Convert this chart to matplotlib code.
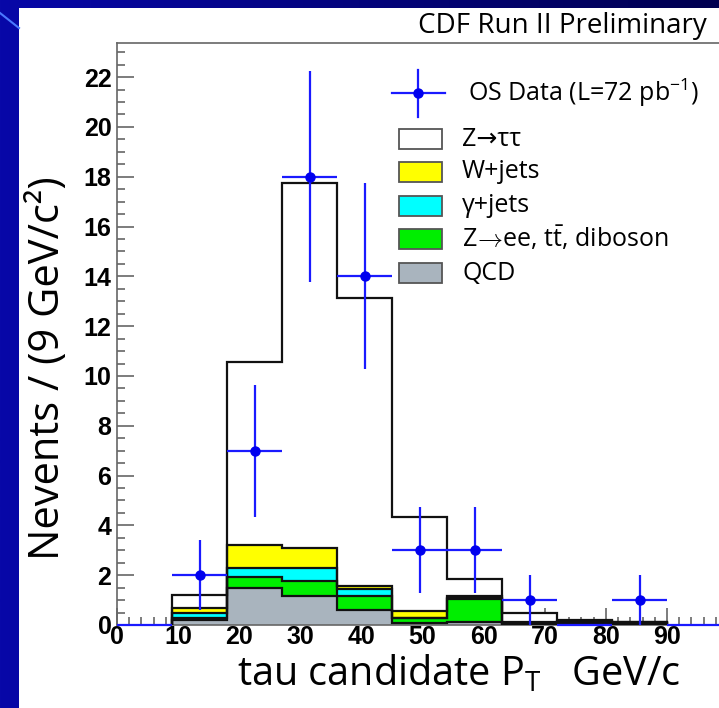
import matplotlib
matplotlib.use("Agg")
import matplotlib.pyplot as plt
import numpy as np
from matplotlib.patches import Rectangle
from matplotlib.lines import Line2D

plt.rcParams["font.family"] = ["Open Sans", "DejaVu Sans"]
plt.rcParams["mathtext.fontset"] = "custom"
plt.rcParams["mathtext.rm"] = "Open Sans"
plt.rcParams["mathtext.it"] = "Open Sans:italic"
plt.rcParams["mathtext.bf"] = "Open Sans:bold"

# 9 GeV bins of tau candidate pT
bin_edges = [9, 18, 27, 36, 45, 54, 63, 72, 81, 90]

# background components, stacked bottom to top
qcd = [0.22, 1.47, 1.16, 0.60, 0.07, 0.13, 0.03, 0.02, 0.02]
zee_tt_diboson = [0.08, 0.45, 0.62, 0.58, 0.20, 0.90, 0.05, 0.08, 0.08]
gamma_jets = [0.19, 0.36, 0.52, 0.25, 0.03, 0.04, 0.02, 0.02, 0.00]
w_jets = [0.21, 0.93, 0.78, 0.14, 0.26, 0.09, 0.03, 0.03, 0.01]
z_tautau = [0.52, 7.35, 14.67, 11.58, 3.79, 0.69, 0.34, 0.05, 0.01]

# opposite-sign data, one entry per bin from 0 to 99
data_centers = [4.5, 13.5, 22.5, 31.5, 40.5, 49.5, 58.5, 67.5, 76.5, 85.5, 94.5]
data_counts = [0, 2, 7, 18, 14, 3, 3, 1, 0, 1, 0]
data_err = [0, 1.41, 2.65, 4.24, 3.74, 1.73, 1.73, 1.0, 0, 1.0, 0]

x_ticks = [0, 10, 20, 30, 40, 50, 60, 70, 80, 90]
y_ticks = [0, 2, 4, 6, 8, 10, 12, 14, 16, 18, 20, 22]

W, H = 719, 708
fig = plt.figure(figsize=(W / 100, H / 100), dpi=100)

# slide background: blue gradient with white panel
bg = fig.add_axes([0, 0, 1, 1])
grad = np.linspace(0, 1, 256)[None, :]
bg.imshow(grad, extent=[0, W, H, 0], aspect="auto",
          cmap=matplotlib.colors.LinearSegmentedColormap.from_list(
              "slide", ["#0808a8", "#04047c", "#000050"]))
bg.add_patch(Rectangle((19, 8), W - 19, H - 8, facecolor="white", edgecolor="none"))
bg.plot([0, 19], [13, 28], color="#4a78ff", lw=1.5)
bg.set_xlim(0, W)
bg.set_ylim(H, 0)
bg.axis("off")

# main frame
ax = fig.add_axes([117 / W, (H - 625) / H, (W - 117) / W, (625 - 43) / H])
ax.set_facecolor("none")
ax.set_xlim(0, 98.5)
ax.set_ylim(0, 23.37)

layers = [qcd, zee_tt_diboson, gamma_jets, w_jets, z_tautau]
colors = ["#a9b4be", "#00ee00", "#00ffff", "#ffff00", "#ffffff"]
tops = np.cumsum(np.array(layers), axis=0)

for top, col in zip(tops[::-1], colors[::-1]):
    ax.stairs(top, bin_edges, baseline=0, fill=True, facecolor=col,
              edgecolor="none", zorder=2)
for top in tops[::-1]:
    ax.stairs(top, bin_edges, baseline=0, fill=False, edgecolor="#111111",
              lw=1.6, zorder=3)

ax.errorbar(data_centers, data_counts, xerr=4.5, yerr=data_err, fmt="none",
            ecolor="#1a1aff", elinewidth=1.6, capsize=0, zorder=5, clip_on=False)
pts = [(c, n) for c, n in zip(data_centers, data_counts) if n > 0]
ax.plot([p[0] for p in pts], [p[1] for p in pts], "o", color="#0000ee",
        ms=6.5, zorder=6)

ax.spines["right"].set_visible(False)
for side in ["top", "left", "bottom"]:
    ax.spines[side].set_color("#666666")
    ax.spines[side].set_linewidth(1.2)

ax.set_xticks(x_ticks)
ax.set_xticks(np.arange(0, 99, 2), minor=True)
ax.set_yticks(y_ticks)
ax.set_yticks(np.arange(0, 23.4, 0.5), minor=True)
ax.tick_params(which="both", direction="in", color="#666666", width=1.2)
ax.tick_params(which="major", length=12, pad=4, labelsize=18)
ax.tick_params(which="minor", length=6)
ax.tick_params(axis="x", pad=0)
for lbl in ax.get_xticklabels() + ax.get_yticklabels():
    lbl.set_fontfamily("Liberation Sans")
    lbl.set_fontweight("bold")

# axis titles
bg.text(48, 368, "Nevents / (9 GeV/c²)", rotation=90,
        ha="center", va="center", fontsize=30)
bg.text(237, 685, r"tau candidate P$_{\mathrm{T}}$   GeV/c", ha="left",
        va="baseline", fontsize=28.5)
bg.text(707, 33, "CDF Run II Preliminary", ha="right", va="baseline", fontsize=20)

# legend
bg.add_line(Line2D([392, 445], [93, 93], color="#1a1aff", lw=1.6))
bg.add_line(Line2D([418, 418], [70, 117], color="#1a1aff", lw=1.6))
bg.plot([418], [93], "o", color="#0000ee", ms=6.5)
bg.text(468, 93, r"OS Data (L=72 pb$^{-1}$)", ha="left", va="center", fontsize=18)

legend_labels = ["Z→ττ", "W+jets", "γ+jets",
                 r"Z$\!\rightarrow\!$ee, t$\bar{\mathrm{t}}$, diboson", "QCD"]
legend_colors = ["#ffffff", "#ffff00", "#00ffff", "#00ee00", "#a9b4be"]
legend_y = [139, 172, 206, 239, 273]
for lab, col, yy in zip(legend_labels, legend_colors, legend_y):
    bg.add_patch(Rectangle((399, yy - 10), 43, 20, facecolor=col,
                           edgecolor="#555555", lw=1.3, zorder=3))
    bg.text(462, yy, lab, ha="left", va="center", fontsize=18)

fig.savefig("out.png", dpi=100)
